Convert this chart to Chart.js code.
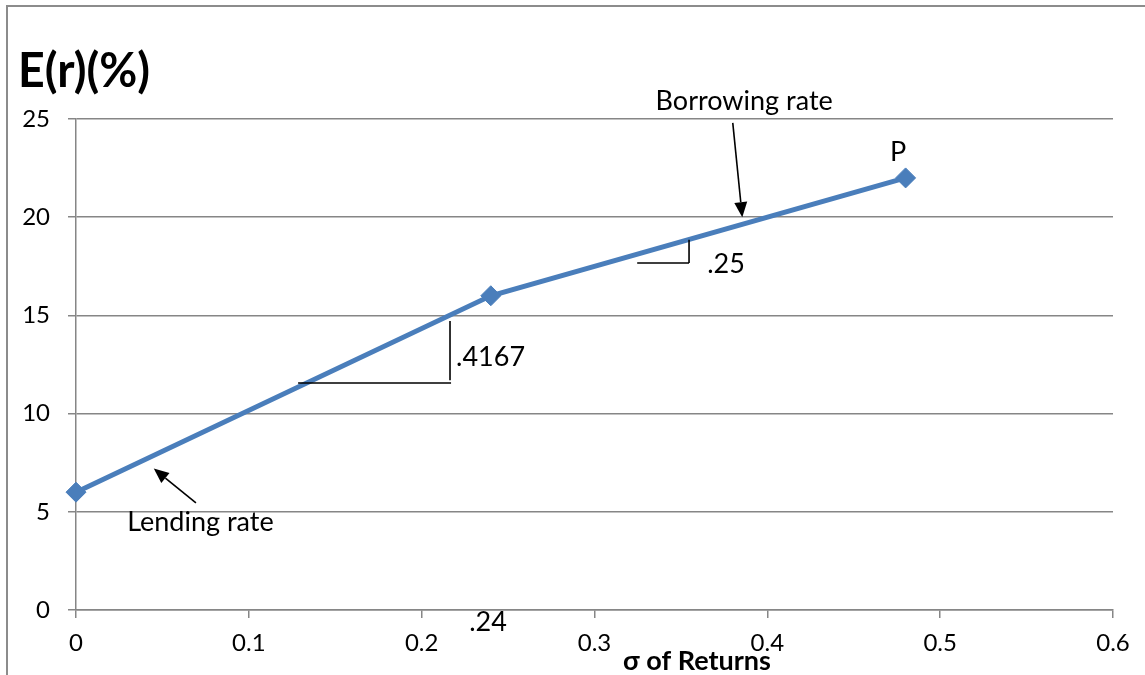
<!DOCTYPE html>
<html>
<head>
<meta charset="utf-8">
<script src="https://cdn.jsdelivr.net/npm/chart.js@4/dist/chart.umd.min.js"></script>
<style>
  html, body { margin: 0; padding: 0; background: #ffffff; }
  #wrap { width: 1145px; height: 675px; position: relative; }
</style>
</head>
<body>
<div id="wrap"><canvas id="cml" width="1145" height="675"></canvas></div>
<script>
// Capital allocation line: lending segment, kink at the risky portfolio, borrowing segment up to P
const sigma = [0, 0.24, 0.48];
const expectedReturn = [6, 16, 22];
const xTickValues = [0, 0.1, 0.2, 0.3, 0.4, 0.5, 0.6];
const yTickValues = [0, 5, 10, 15, 20, 25];

const yTitle = 'E(r)(%)';
const xTitle = 'σ of Returns';
const slopeLending = '.4167';
const slopeBorrowing = '.25';
const kinkLabel = '.24';
const pointLabel = 'P';
const lendingLabel = 'Lending rate';
const borrowingLabel = 'Borrowing rate';

const FONT = 'Lato, "Liberation Sans", sans-serif';
const LINE_BLUE = '#4a7ebb';
const GRID = '#868686';

// Annotations placed in data space (σ, E(r)) so they follow the scales
const annotations = {
  borrowingArrow: { from: [0.380, 24.8], to: [0.3855, 20.0] },
  borrowingText: { at: [0.3866, 25.9] },
  lendingArrow: { from: [0.0694, 5.45], to: [0.0450, 7.2] },
  lendingText: { at: [0.0720, 4.45] },
  lendingSlope: { hx: [0.1285, 0.2170], hy: 11.56, vx: 0.2164, vy: [11.7, 14.72], label: [0.2199, 12.85] },
  borrowingSlope: { hx: [0.3247, 0.3547], hy: 17.67, vx: 0.3547, vy: [17.67, 18.85], label: [0.3652, 17.62] },
  pointText: { at: [0.4757, 23.3] },
  kinkText: { at: [0.2384, -0.62] }
};

function arrow(ctx, x1, y1, x2, y2) {
  const ang = Math.atan2(y2 - y1, x2 - x1);
  const len = 15, half = 6.5;
  const bx = x2 - len * Math.cos(ang), by = y2 - len * Math.sin(ang);
  ctx.beginPath();
  ctx.moveTo(x1, y1);
  ctx.lineTo(bx, by);
  ctx.lineWidth = 1.6;
  ctx.strokeStyle = '#000';
  ctx.stroke();
  ctx.beginPath();
  ctx.moveTo(x2, y2);
  ctx.lineTo(bx + half * Math.sin(ang), by - half * Math.cos(ang));
  ctx.lineTo(bx - half * Math.sin(ang), by + half * Math.cos(ang));
  ctx.closePath();
  ctx.fillStyle = '#000';
  ctx.fill();
}

const annotationPlugin = {
  id: 'calAnnotations',
  afterDraw(chart) {
    const ctx = chart.ctx;
    const xs = chart.scales.x, ys = chart.scales.y;
    const px = v => xs.getPixelForValue(v);
    const py = v => ys.getPixelForValue(v);
    ctx.save();

    // frame of the chart object
    ctx.strokeStyle = '#8c8c8c';
    ctx.lineWidth = 2;
    ctx.beginPath();
    ctx.moveTo(7, chart.height);
    ctx.lineTo(7, 6);
    ctx.lineTo(chart.width, 6);
    ctx.stroke();

    // vertical axis title (condensed bold)
    ctx.fillStyle = '#000';
    ctx.font = 'bold 48px ' + FONT;
    ctx.textBaseline = 'alphabetic';
    ctx.textAlign = 'left';
    const tw = ctx.measureText(yTitle).width;
    ctx.save();
    ctx.translate(18, 87);
    ctx.scale(132 / tw, 1);
    ctx.fillText(yTitle, 0, 0);
    ctx.restore();

    // horizontal axis title
    ctx.font = 'bold 27px ' + FONT;
    ctx.textAlign = 'center';
    ctx.textBaseline = 'middle';
    ctx.fillText(xTitle, 697, 661);

    // text labels
    ctx.font = '27px ' + FONT;
    ctx.textAlign = 'center';
    ctx.textBaseline = 'middle';
    ctx.fillText(borrowingLabel, px(annotations.borrowingText.at[0]), py(annotations.borrowingText.at[1]));
    ctx.fillText(lendingLabel, px(annotations.lendingText.at[0]), py(annotations.lendingText.at[1]));
    ctx.fillText(pointLabel, px(annotations.pointText.at[0]), py(annotations.pointText.at[1]));
    ctx.fillText(kinkLabel, px(annotations.kinkText.at[0]), py(annotations.kinkText.at[1]));
    ctx.textAlign = 'left';
    ctx.fillText(slopeLending, px(annotations.lendingSlope.label[0]), py(annotations.lendingSlope.label[1]));
    ctx.fillText(slopeBorrowing, px(annotations.borrowingSlope.label[0]), py(annotations.borrowingSlope.label[1]));

    // slope triangles
    ctx.strokeStyle = '#000';
    ctx.lineWidth = 1.6;
    [annotations.lendingSlope, annotations.borrowingSlope].forEach(s => {
      ctx.beginPath();
      ctx.moveTo(px(s.hx[0]), py(s.hy));
      ctx.lineTo(px(s.hx[1]), py(s.hy));
      ctx.moveTo(px(s.vx), py(s.vy[0]));
      ctx.lineTo(px(s.vx), py(s.vy[1]));
      ctx.stroke();
    });

    // arrows
    const b = annotations.borrowingArrow, l = annotations.lendingArrow;
    arrow(ctx, px(b.from[0]), py(b.from[1]), px(b.to[0]), py(b.to[1]));
    arrow(ctx, px(l.from[0]), py(l.from[1]), px(l.to[0]), py(l.to[1]));

    ctx.restore();
  }
};

const points = sigma.map((s, i) => ({ x: s, y: expectedReturn[i] }));

new Chart(document.getElementById('cml'), {
  type: 'scatter',
  data: {
    datasets: [{
      data: points,
      showLine: true,
      clip: false,
      borderColor: LINE_BLUE,
      backgroundColor: LINE_BLUE,
      borderWidth: 5,
      pointStyle: 'rectRot',
      pointRadius: 10,
      pointBorderWidth: 1,
      pointBackgroundColor: LINE_BLUE,
      pointBorderColor: LINE_BLUE,
      tension: 0
    }]
  },
  options: {
    responsive: false,
    animation: false,
    devicePixelRatio: 1,
    layout: { padding: { left: 0, top: 119, right: 32, bottom: 0 } },
    plugins: { legend: { display: false }, tooltip: { enabled: false } },
    scales: {
      x: {
        type: 'linear',
        min: 0, max: 0.6,
        afterBuildTicks: axis => { axis.ticks = xTickValues.map(v => ({ value: v })); },
        afterFit: axis => { axis.height = 65; },
        grid: { display: true, drawOnChartArea: false, drawTicks: true, tickLength: 8, color: GRID, lineWidth: 1.5 },
        border: { color: GRID, width: 1.5 },
        ticks: {
          color: '#000', font: { family: FONT, size: 24 }, padding: 11, maxRotation: 0,
          callback: v => String(v)
        }
      },
      y: {
        type: 'linear',
        min: 0, max: 25,
        afterBuildTicks: axis => { axis.ticks = yTickValues.map(v => ({ value: v })); },
        afterFit: axis => { axis.width = 76; },
        grid: { color: GRID, lineWidth: 1.5, tickLength: 8 },
        border: { color: GRID, width: 1.5 },
        ticks: { color: '#000', font: { family: FONT, size: 24 }, padding: 18 }
      }
    }
  },
  plugins: [annotationPlugin]
});
</script>
</body>
</html>
